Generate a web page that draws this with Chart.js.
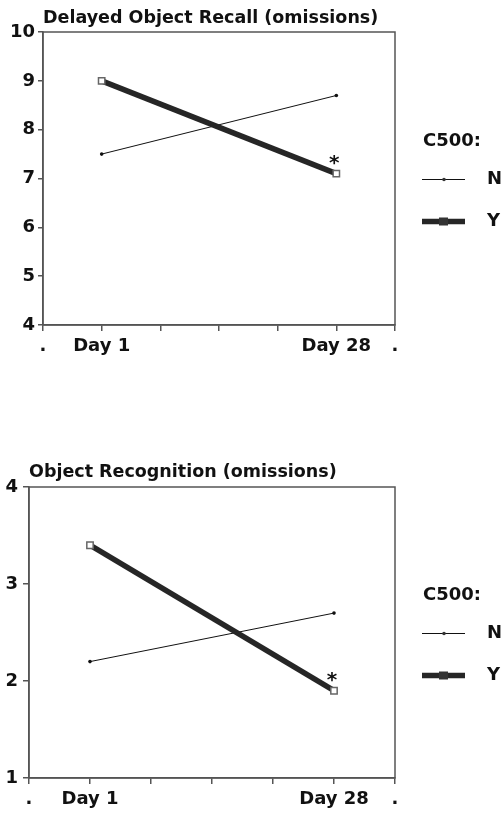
<!DOCTYPE html>
<html>
<head>
<meta charset="utf-8">
<script src="https://cdn.jsdelivr.net/npm/chart.js@4/dist/chart.umd.min.js"></script>
<style>
    body { margin: 0; background: #fff; }
    canvas { display: block; }
</style>
</head>
<body>
<canvas id="recallChart" width="504" height="400"></canvas>
<canvas id="recogChart" width="504" height="414"></canvas>
<script>
// x axis ticks: the two visits sit at the 2nd and 6th of seven tick marks
const xTickLabels = ['.', 'Day 1', '', '', '', 'Day 28', '.']
const days = ['Day 1', 'Day 28']
const groups = ['N', 'Y']
const legendTitle = 'C500:'

// Delayed Object Recall (omissions)
const recallN = [7.5, 8.7]
const recallY = [9.0, 7.1]
const recallTicks = [4, 5, 6, 7, 8, 9, 10]

// Object Recognition (omissions)
const recogN = [2.2, 2.7]
const recogY = [3.4, 1.9]
const recogTicks = [1, 2, 3, 4]

Chart.defaults.font.family = 'DejaVu Sans'
Chart.defaults.font.weight = 'bold'
Chart.defaults.color = '#111'

const toPoints = vals => days.map((d, i) => ({ x: d, y: vals[i] }))

// box around the plot area
const framePlugin = {
    id: 'frame',
    beforeDatasetsDraw(chart) {
        const { ctx, chartArea: a } = chart
        ctx.save()
        ctx.strokeStyle = '#555'
        ctx.lineWidth = 1.5
        ctx.strokeRect(a.left, a.top, a.right - a.left, a.bottom - a.top)
        ctx.restore()
    }
}

// asterisk over the significant point
const starPlugin = {
    id: 'star',
    afterDatasetsDraw(chart, args, opts) {
        const pt = chart.getDatasetMeta(opts.dataset).data[opts.index]
        if (!pt) return
        const ctx = chart.ctx
        ctx.save()
        ctx.font = 'bold 20px "DejaVu Sans"'
        ctx.fillStyle = '#111'
        ctx.textAlign = 'center'
        ctx.textBaseline = 'middle'
        ctx.fillText('*', pt.x - 2, pt.y - 10)
        ctx.restore()
    }
}

// legend on the right: title, then a line sample and the group name
const sideLegend = {
    id: 'sideLegend',
    afterDraw(chart) {
        const { ctx, chartArea: a } = chart
        const cy = (a.top + a.bottom) / 2
        const x0 = a.right + 27
        ctx.save()
        ctx.font = 'bold 18px "DejaVu Sans"'
        ctx.fillStyle = '#111'
        ctx.textBaseline = 'middle'
        ctx.fillText(legendTitle, x0 + 1, cy - 37)
        chart.data.datasets.forEach((ds, i) => {
            const y = cy + 1 + i * 42
            ctx.strokeStyle = ds.borderColor
            ctx.lineWidth = ds.borderWidth
            ctx.beginPath()
            ctx.moveTo(x0, y)
            ctx.lineTo(x0 + 43, y)
            ctx.stroke()
            ctx.fillStyle = '#333'
            if (ds.pointStyle === 'rect') {
                ctx.fillRect(x0 + 17, y - 4, 9, 8)
            } else {
                ctx.beginPath()
                ctx.arc(x0 + 22, y, 1.8, 0, Math.PI * 2)
                ctx.fill()
            }
            ctx.fillStyle = '#111'
            ctx.fillText(ds.label, x0 + 65, y)
        })
        ctx.restore()
    }
}

function makeChart(id, title, nVals, yVals, yTicks, opt) {
    return new Chart(document.getElementById(id), {
        type: 'line',
        data: {
            labels: xTickLabels,
            datasets: [{
                label: groups[0],
                data: toPoints(nVals),
                borderColor: '#111',
                borderWidth: 1,
                pointRadius: 1.8,
                pointBackgroundColor: '#111',
                pointBorderWidth: 0,
                order: 1
            }, {
                label: groups[1],
                data: toPoints(yVals),
                borderColor: '#262626',
                borderWidth: 5.5,
                pointStyle: 'rect',
                pointRadius: 4.5,
                pointBackgroundColor: '#fff',
                pointBorderColor: '#666',
                pointBorderWidth: 1.5,
                order: 0
            }]
        },
        options: {
            responsive: false,
            animation: false,
            layout: { padding: { left: 0, right: 109, top: 0, bottom: 0 } },
            scales: {
                x: {
                    type: 'category',
                    offset: false,
                    grid: { drawOnChartArea: false, drawTicks: true, tickLength: 6, color: '#555', lineWidth: 1.5 },
                    border: { display: true, color: '#555', width: 1.5 },
                    ticks: { autoSkip: false, maxRotation: 0, padding: 5, font: { size: 18, weight: 'bold' } },
                    afterFit: s => { s.height = opt.xHeight }
                },
                y: {
                    min: yTicks[0],
                    max: yTicks[yTicks.length - 1],
                    afterBuildTicks: s => { s.ticks = yTicks.map(v => ({ value: v })) },
                    grid: { drawOnChartArea: false, drawTicks: true, tickLength: opt.tickLen, color: '#555', lineWidth: 1.5 },
                    border: { display: true, color: '#555', width: 1.5 },
                    ticks: { padding: opt.yPad, font: { size: 18, weight: 'bold' } },
                    afterFit: s => { s.width = opt.yWidth }
                }
            },
            plugins: {
                legend: { display: false },
                tooltip: { enabled: false },
                title: {
                    display: true,
                    text: title,
                    align: 'start',
                    fullSize: false,
                    color: '#111',
                    font: { size: 17.5, weight: 'bold' },
                    padding: { top: opt.titleTop, bottom: opt.titleBottom }
                },
                star: { dataset: 1, index: 1 }
            }
        },
        plugins: [framePlugin, starPlugin, sideLegend]
    })
}

makeChart('recallChart', 'Delayed Object Recall (omissions)', recallN, recallY, recallTicks,
    { xHeight: 75, yWidth: 43, tickLen: 5, yPad: 3, titleTop: 8, titleBottom: 3 })
makeChart('recogChart', 'Object Recognition (omissions)', recogN, recogY, recogTicks,
    { xHeight: 36, yWidth: 29, tickLen: 6, yPad: 5, titleTop: 62, titleBottom: 4 })
</script>
</body>
</html>
